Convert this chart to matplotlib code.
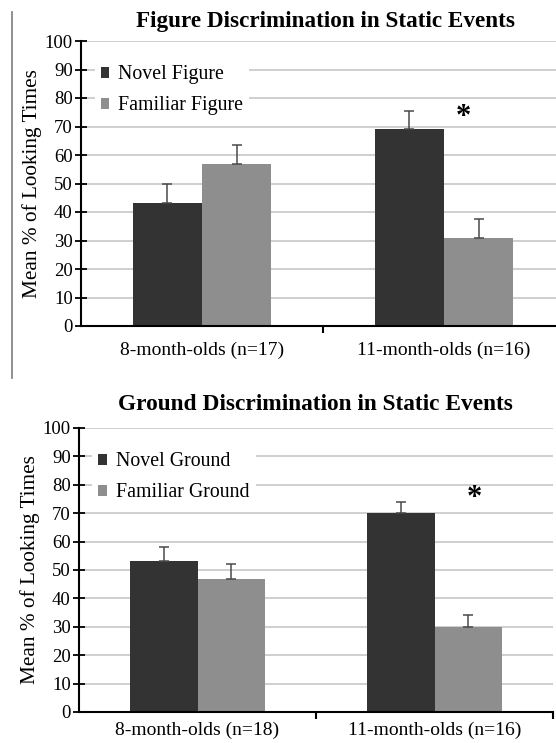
import numpy as np
import matplotlib.pyplot as plt
from matplotlib.lines import Line2D

plt.rcParams['font.family'] = ['Liberation Serif', 'DejaVu Serif']

# data
top_groups = ['8-month-olds (n=17)', '11-month-olds (n=16)']
top_novel = [43, 69]
top_novel_err = [7, 6.5]
top_familiar = [57, 31]
top_familiar_err = [6.5, 6.5]

bot_groups = ['8-month-olds (n=18)', '11-month-olds (n=16)']
bot_novel = [53, 70]
bot_novel_err = [5, 4]
bot_familiar = [47, 30]
bot_familiar_err = [5, 4]

dark = '#333333'
light = '#8e8e8e'

W, H = 556, 743
fig = plt.figure(figsize=(W / 100, H / 100), dpi=100)


def px_axes(left, right, top, bottom):
    return fig.add_axes([left / W, 1 - bottom / H, (right - left) / W, (bottom - top) / H])


def draw(ax, groups, novel, novel_err, fam, fam_err, labels, star_x, star_y, xpad):
    x = np.arange(len(groups))
    bw = 1 / 3.5
    ax.bar(x - bw / 2, novel, bw, color=dark, label=labels[0], zorder=2)
    ax.bar(x + bw / 2, fam, bw, color=light, label=labels[1], zorder=2)
    ax.errorbar(x - bw / 2, novel, yerr=[np.zeros(len(x)), novel_err], fmt='none',
                ecolor='#4a4a4a', elinewidth=1.1, capsize=3.5, capthick=1.1, zorder=3)
    ax.errorbar(x + bw / 2, fam, yerr=[np.zeros(len(x)), fam_err], fmt='none',
                ecolor='#4a4a4a', elinewidth=1.1, capsize=3.5, capthick=1.1, zorder=3)
    ax.set_xlim(-0.5, len(groups) - 0.5)
    ax.set_ylim(0, 100)
    ax.set_yticks(range(0, 101, 10))
    ax.yaxis.grid(True, color='#cccccc', linewidth=1.3, zorder=0)
    ax.set_axisbelow(True)
    ax.set_xticks(x)
    ax.set_xticklabels(groups, fontsize=14)
    ax.set_xticks(np.arange(0.5, len(groups), 1), minor=True)
    ax.tick_params(axis='x', which='major', length=0, pad=xpad)
    ax.tick_params(axis='x', which='minor', length=5, width=1.5, direction='out')
    ax.tick_params(axis='y', length=8, width=1.3, direction='inout', labelsize=13.5, pad=2)
    for s in ['top', 'right']:
        ax.spines[s].set_visible(False)
    ax.spines['left'].set_linewidth(1.5)
    ax.spines['bottom'].set_linewidth(1.5)
    ax.set_ylabel('Mean % of Looking Times', fontsize=15.3, labelpad=2)
    ax.text(star_x, star_y, '*', fontsize=22, fontweight='bold', ha='center', va='center')
    leg = ax.legend(loc='upper left', bbox_to_anchor=(0.028, 0.935), frameon=True,
                    fancybox=False, facecolor='white', edgecolor='none', framealpha=1,
                    fontsize=14.3, handlelength=0.45, handleheight=0.45, handletextpad=0.45,
                    labelspacing=0.6, borderpad=0.3, borderaxespad=0)
    leg.set_zorder(4)
    return ax


ax1 = px_axes(81, 565, 41, 326)
draw(ax1, top_groups, top_novel, top_novel_err, top_familiar, top_familiar_err,
     ['Novel Figure', 'Familiar Figure'], 1.08, 73.0, 11)
fig.text(326 / W, 1 - 21 / H, 'Figure Discrimination in Static Events', fontsize=16.7,
         fontweight='bold', ha='center', va='center')

ax2 = px_axes(79, 553, 428, 712)
draw(ax2, bot_groups, bot_novel, bot_novel_err, bot_familiar, bot_familiar_err,
     ['Novel Ground', 'Familiar Ground'], 1.17, 75.0, 7)
fig.text(315 / W, 1 - 405 / H, 'Ground Discrimination in Static Events', fontsize=16.8,
         fontweight='bold', ha='center', va='center')

# thin border line at the left of the upper panel
fig.add_artist(Line2D([12 / W, 12 / W], [1 - 12 / H, 1 - 378 / H], color='#888888', linewidth=1.3))

fig.savefig('out.png', dpi=100)
